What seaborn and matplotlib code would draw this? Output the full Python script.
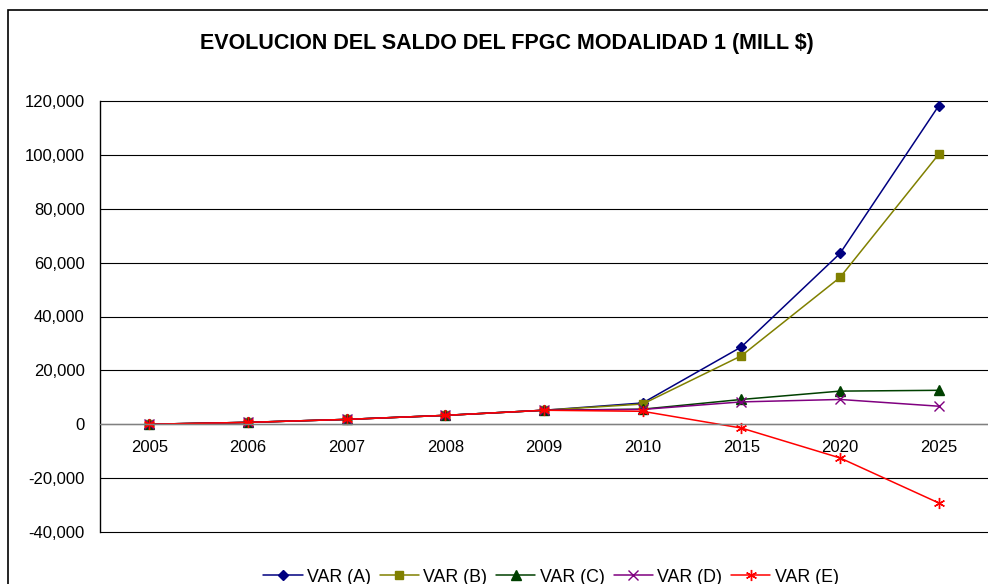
import numpy as np
import pandas as pd
import matplotlib
matplotlib.use("Agg")
import matplotlib.pyplot as plt
import seaborn as sns
from matplotlib.patches import Rectangle
from matplotlib.ticker import FuncFormatter, FixedLocator

sns.set_theme(style="white")
plt.rcParams['font.family'] = ['Liberation Sans', 'DejaVu Sans']
plt.rcParams['text.color'] = 'black'
plt.rcParams['xtick.color'] = 'black'
plt.rcParams['ytick.color'] = 'black'

# Datos (millones de $)
anios = ["2005", "2006", "2007", "2008", "2009", "2010", "2015", "2020", "2025"]
var_a = [0, 700, 1800, 3300, 5200, 7900, 28700, 63400, 118200]
var_b = [0, 700, 1800, 3300, 5200, 7500, 25400, 54500, 100200]
var_c = [0, 700, 1800, 3300, 5200, 5600, 9200, 12300, 12600]
var_d = [0, 700, 1800, 3300, 5200, 5500, 8300, 9200, 6700]
var_e = [0, 700, 1800, 3300, 5200, 4800, -1400, -12500, -29200]
series = ["VAR (A)", "VAR (B)", "VAR (C)", "VAR (D)", "VAR (E)"]

df = pd.DataFrame({"anio": anios, "VAR (A)": var_a, "VAR (B)": var_b,
                   "VAR (C)": var_c, "VAR (D)": var_d, "VAR (E)": var_e})

colores = {"VAR (A)": "#000080", "VAR (B)": "#808000", "VAR (C)": "#004000",
           "VAR (D)": "#800080", "VAR (E)": "#FF0000"}
marcadores = {"VAR (A)": "D", "VAR (B)": "s", "VAR (C)": "^",
              "VAR (D)": "x", "VAR (E)": (6, 2, 0)}
tamanos = {"VAR (A)": 5, "VAR (B)": 6, "VAR (C)": 6.5, "VAR (D)": 7, "VAR (E)": 8}

fig = plt.figure(figsize=(9.88, 5.84), dpi=100)
W, H = 988, 584
ax = fig.add_axes([100 / W, 1 - 532 / H, 888 / W, (532 - 101) / H])

for s in series:
    sns.lineplot(data=df, x="anio", y=s, color=colores[s], marker=marcadores[s],
                 markersize=tamanos[s], markeredgecolor=colores[s],
                 markeredgewidth=1.0, linewidth=1.1, label=s, ax=ax, sort=False)

ax.set_xlim(-0.5, len(anios) - 0.5)
ax.set_ylim(-40000, 120000)
ax.set_yticks(np.arange(-40000, 120001, 20000))
ax.yaxis.set_major_formatter(FuncFormatter(lambda v, p: f"{int(v):,}"))
ax.yaxis.grid(True, color="black", linewidth=0.8)
for gl in ax.yaxis.get_gridlines():
    gl.set_clip_on(False)
ax.set_axisbelow(True)

ax.spines['top'].set_visible(False)
ax.spines['right'].set_visible(False)
ax.spines['left'].set_color("black")
ax.spines['left'].set_linewidth(1.0)
ax.spines['bottom'].set_position(('data', 0))
ax.spines['bottom'].set_color("#808080")
ax.spines['bottom'].set_linewidth(1.0)

ax.xaxis.set_major_locator(FixedLocator(range(len(anios))))
ax.set_xticklabels(anios)
ax.xaxis.set_minor_locator(FixedLocator(np.arange(0.5, len(anios) - 0.5, 1)))
ax.tick_params(axis='x', which='major', length=0, pad=11, labelsize=12)
ax.tick_params(axis='x', which='minor', length=5, width=1, direction='out', color="black")
ax.tick_params(axis='y', length=5, width=1, direction='out', color="black",
               labelsize=12, pad=6)
ax.set_xlabel("")
ax.set_ylabel("")

handles, labels = ax.get_legend_handles_labels()
ax.legend_.remove()
fig.legend(handles, labels, loc='center', bbox_to_anchor=(551 / W, 1 - 577 / H),
           ncol=5, frameon=False, fontsize=12.8, handlelength=2.2,
           columnspacing=0.5, handletextpad=0.25, borderaxespad=0)

fig.text(507 / W, 1 - 44 / H, "EVOLUCION DEL SALDO DEL FPGC MODALIDAD 1 (MILL $)",
         ha='center', va='center', fontsize=15.5, fontweight='bold')

fig.patches.append(Rectangle((8 / W, -0.2), 1.2, 1.2 - 10 / H,
                             transform=fig.transFigure, fill=False,
                             edgecolor="black", linewidth=1.2))

fig.savefig("out.png", dpi=100)
